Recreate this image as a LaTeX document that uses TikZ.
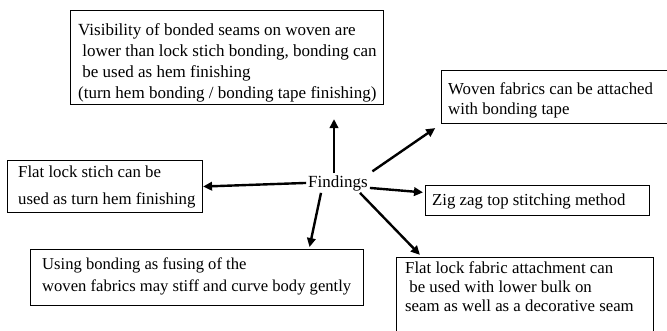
\documentclass[tikz,border=0pt]{standalone}
\usepackage{fontspec}
\setmainfont{Liberation Serif}
\usetikzlibrary{arrows.meta}
\begin{document}
\begin{tikzpicture}[x=1pt,y=-1pt,
  box/.style={draw=black,line width=1.1pt,anchor=north west,inner sep=0pt},
  txt/.style={anchor=base west,inner sep=0pt,align=left,font=\fontsize{16.8}{#1}\selectfont},
  txt/.default=21,
  arr/.style={line width=2.4pt,-{Triangle[length=9pt,width=8.5pt]}}]
\useasboundingbox (0,0) rectangle (667,330);
\fill[white] (0,0) rectangle (667,330);
% boxes
\node[box,minimum width=313pt,minimum height=94pt] (top) at (70,10) {};
\node[box,minimum width=240pt,minimum height=53pt] (rtop) at (441,70) {};
\node[box,minimum width=195pt,minimum height=52pt] (left) at (7,160) {};
\node[box,minimum width=224pt,minimum height=30pt] (zig) at (425,185) {};
\node[box,minimum width=333pt,minimum height=56pt] (bl) at (30,249) {};
\node[box,minimum width=257pt,minimum height=90pt] (br) at (396,257) {};
% texts (anchored at the baseline of their last line)
\node[txt=21,font=\fontsize{17}{21}\selectfont] (toptext) at (78,98)
 {Visibility of bonded seams on woven are\\
  \ lower than lock stich bonding, bonding can\\
  \ be used as hem finishing\\
  (turn hem bonding / bonding tape finishing)};
\node[txt=20] (rtoptext) at (448,114)
 {Woven fabrics can be attached\\with bonding tape};
\node[txt=27] (lefttext) at (18,204)
 {Flat lock stich can be\\used as turn hem finishing};
\node[txt] (zigtext) at (432,205) {Zig zag top stitching method};
\node[txt=22,font=\fontsize{16.6}{22}\selectfont] (bltext) at (42,291)
 {Using bonding as fusing of the\\woven fabrics may stiff and curve body gently};
\node[txt=19] (brtext) at (405,311)
 {Flat lock fabric attachment can\\
  \ be used with lower bulk on\\
  seam as well as a decorative seam};
\node[anchor=base,inner sep=2pt,font=\fontsize{17}{20}\selectfont] (find) at (338,187) {Findings};
% connectors
\draw[arr,shorten >=14pt] ([xshift=-4pt]find.north) -- ([xshift=-4pt]find.north |- top.south);
\draw[arr] (find.west) -- (left.east);
\draw[arr,shorten <=3pt,shorten >=7pt] (find.north east) -- (rtop.south west);
\draw[arr,shorten >=2pt] ([yshift=-5pt]find.east) -- ([yshift=8pt]zig.west);
\draw[arr,shorten >=3pt] ([xshift=-10pt]find.south east) -- ([xshift=26pt]br.north west);
\draw[arr,shorten >=2pt] ([xshift=-17pt]find.south) -- ([xshift=-55pt]bl.north east);
\end{tikzpicture}
\end{document}
